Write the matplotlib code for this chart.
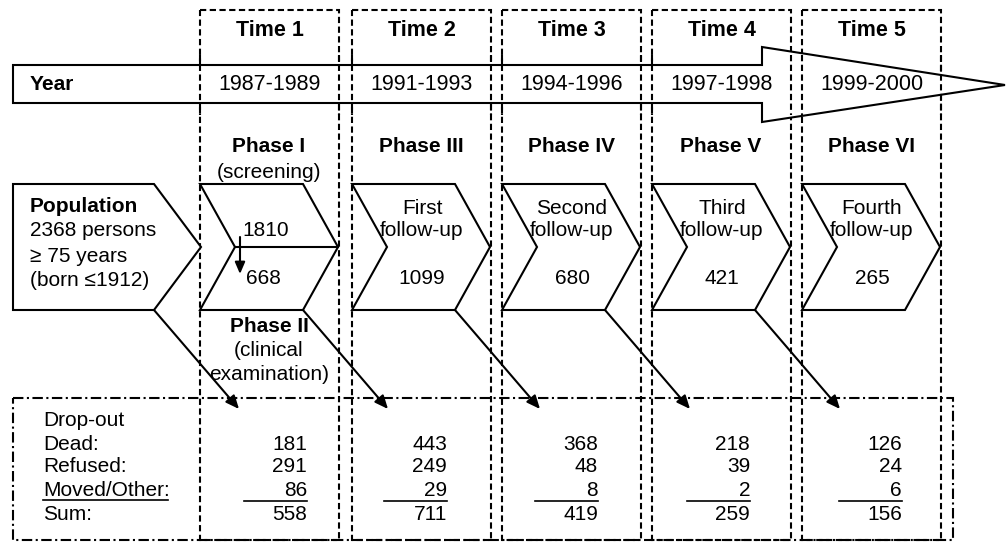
import matplotlib.pyplot as plt
from matplotlib.patches import Polygon, Rectangle
from matplotlib.lines import Line2D

plt.rcParams['font.family'] = ['Liberation Sans', 'DejaVu Sans']
plt.rcParams['lines.scale_dashes'] = False

# data
times = ["Time 1", "Time 2", "Time 3", "Time 4", "Time 5"]
years = ["1987-1989", "1991-1993", "1994-1996", "1997-1998", "1999-2000"]
phases = ["Phase I", "Phase III", "Phase IV", "Phase V", "Phase VI"]
followups = ["", "First\nfollow-up", "Second\nfollow-up", "Third\nfollow-up", "Fourth\nfollow-up"]
participants = [1810, 1099, 680, 421, 265]
examined = 668
dead = [181, 443, 368, 218, 126]
refused = [291, 249, 48, 39, 24]
moved = [86, 29, 8, 2, 6]
sums = [558, 711, 419, 259, 156]

# layout (pixel coords)
col_left = [200, 352, 502, 652, 802]
col_w = 139
num_right = [307, 447, 598, 750, 902]
fs = 15
lw = 1.5
dashed = (0, (4.5, 2.5))
dashdot = (0, (7.5, 2.5, 1.5, 2.5))

fig = plt.figure(figsize=(10.07, 5.44), dpi=100)
ax = fig.add_axes([0, 0, 1, 1])
ax.set_xlim(0, 1007)
ax.set_ylim(544, 0)
ax.axis('off')

# dashed time columns
for i, L in enumerate(col_left):
    ax.add_patch(Rectangle((L, 10), col_w, 530, fill=False, ls=dashed, lw=lw, ec='black'))
    ax.text(L + col_w / 2, 30, times[i], ha='center', va='center', fontsize=fs + 0.5, fontweight='bold')

# year arrow
year_arrow = [(13, 65), (762, 65), (762, 47), (1005, 85), (762, 122), (762, 103), (13, 103)]
ax.add_patch(Polygon(year_arrow, closed=True, fc='white', ec='black', lw=lw, zorder=2))
ax.text(30, 85, "Year", ha='left', va='center', fontsize=fs, fontweight='bold', zorder=3)
for i, L in enumerate(col_left):
    ax.text(L + col_w / 2, 85, years[i], ha='center', va='center', fontsize=fs + 0.5, zorder=3)
# redraw dashed column edges over the arrow
for L in col_left:
    for x in (L, L + col_w):
        ax.add_line(Line2D([x, x], [55, 115], ls=dashed, lw=lw, color='black', zorder=4))

# population pentagon
pop = [(13, 184), (154, 184), (201, 247), (154, 310), (13, 310)]
ax.add_patch(Polygon(pop, closed=True, fc='white', ec='black', lw=lw, zorder=2))
ax.text(30, 206, "Population", ha='left', va='center', fontsize=fs, fontweight='bold', zorder=3)
ax.text(30, 231, "2368 persons", ha='left', va='center', fontsize=fs, zorder=3)
ax.text(30, 256, "≥ 75 years", ha='left', va='center', fontsize=fs, zorder=3)
ax.text(30, 280, "(born ≤1912)", ha='left', va='center', fontsize=fs, zorder=3)

# phase chevrons
for i, L in enumerate(col_left):
    chev = [(L, 184), (L + 103, 184), (L + 138, 247), (L + 103, 310), (L, 310), (L + 35, 247)]
    ax.add_patch(Polygon(chev, closed=True, fc='white', ec='black', lw=lw, zorder=2))
    cx = L + 69
    ax.text(cx, 147, phases[i], ha='center', va='center', fontsize=fs, fontweight='bold')
    if i == 0:
        ax.text(cx, 172, "(screening)", ha='center', va='center', fontsize=fs)
        ax.add_line(Line2D([L + 35, L + 138], [247, 247], lw=lw, color='black', zorder=3))
        ax.annotate("", xy=(L + 40, 274), xytext=(L + 40, 237),
                    arrowprops=dict(arrowstyle='-|>,head_length=0.7,head_width=0.3',
                                    lw=lw, color='black', shrinkA=0, shrinkB=0), zorder=3)
        ax.text(L + 42, 230, str(participants[i]), ha='left', va='center', fontsize=fs, zorder=3)
        ax.text(L + 46, 278, str(examined), ha='left', va='center', fontsize=fs, zorder=3)
        ax.text(cx, 327, "Phase II", ha='center', va='center', fontsize=fs, fontweight='bold')
        ax.text(cx, 351, "(clinical", ha='center', va='center', fontsize=fs)
        ax.text(cx, 375, "examination)", ha='center', va='center', fontsize=fs)
    else:
        ax.text(cx + 1, 219, followups[i], ha='center', va='center', fontsize=fs,
                linespacing=1.2, zorder=3)
        ax.text(cx + 1, 278, str(participants[i]), ha='center', va='center', fontsize=fs, zorder=3)

# drop-out box
ax.add_patch(Rectangle((13, 398), 940, 142, fill=False, ls=dashdot, lw=lw, ec='black'))
labels = ["Drop-out", "Dead:", "Refused:", "Moved/Other:", "Sum:"]
label_y = [420, 444, 467, 491, 515]
for lab, y in zip(labels, label_y):
    ax.text(43, y, lab, ha='left', va='center', fontsize=fs)
ax.add_line(Line2D([43, 168], [500, 500], lw=1.2, color='black'))

for i in range(5):
    r = num_right[i]
    ax.text(r, 444, str(dead[i]), ha='right', va='center', fontsize=fs)
    ax.text(r, 467, str(refused[i]), ha='right', va='center', fontsize=fs)
    ax.text(r, 491, str(moved[i]), ha='right', va='center', fontsize=fs)
    ax.add_line(Line2D([r - 63, r], [501, 501], lw=1.2, color='black'))
    ax.text(r, 515, str(sums[i]), ha='right', va='center', fontsize=fs)

# diagonal drop-out arrows
starts = [(154, 310)] + [(L + 103, 310) for L in col_left[:4]]
for (x0, y0), L in zip(starts, col_left):
    ax.annotate("", xy=(x0 + 85, 409), xytext=(x0, y0),
                arrowprops=dict(arrowstyle='-|>,head_length=0.8,head_width=0.35',
                                lw=lw, color='black', shrinkA=0, shrinkB=0), zorder=5)

fig.savefig('out.png', dpi=100)
